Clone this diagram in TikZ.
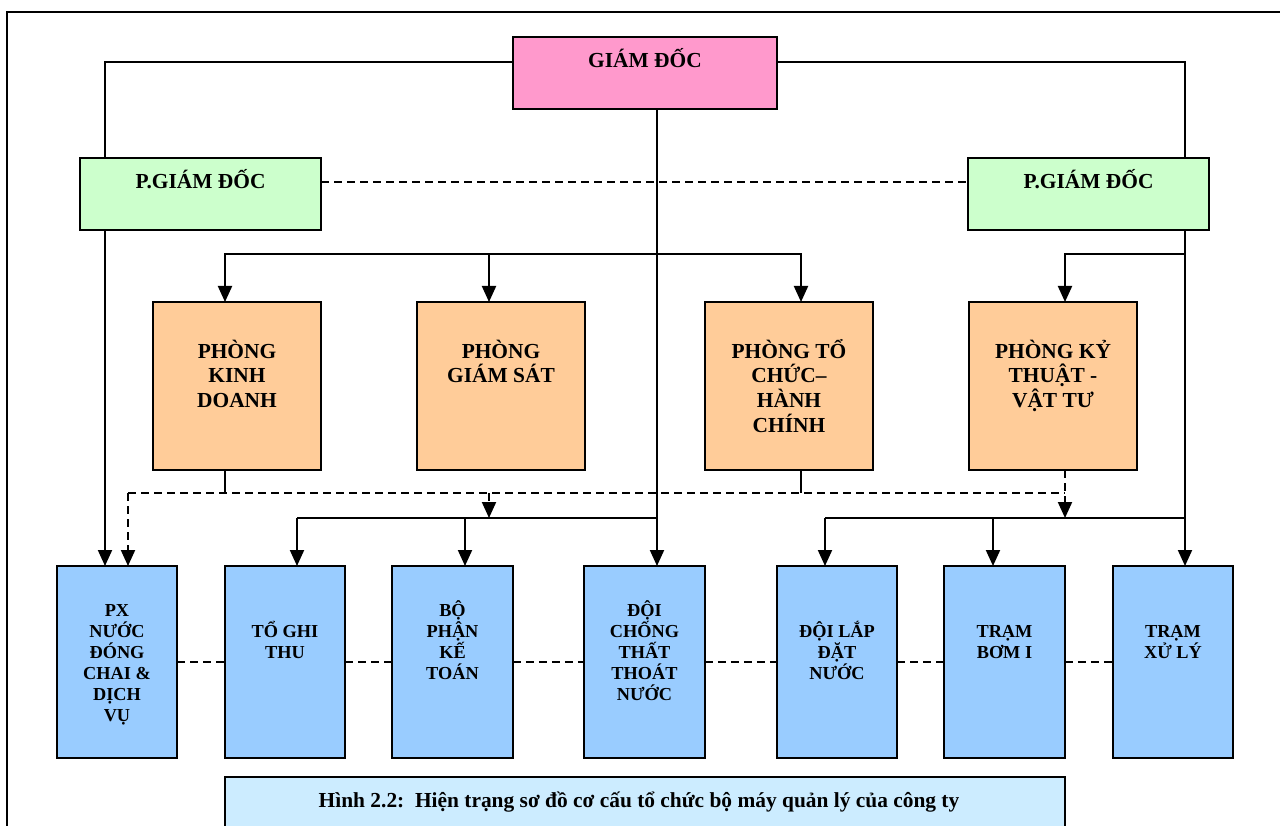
\documentclass[tikz,border=0pt]{standalone}
\usepackage{fontspec}
\setmainfont{Liberation Serif}
\usetikzlibrary{calc,arrows.meta}
\definecolor{gdpink}{HTML}{FF99CC}
\definecolor{pgdgreen}{HTML}{CCFFCC}
\definecolor{orangebox}{HTML}{FFCC99}
\definecolor{bluebox}{HTML}{99CCFF}
\definecolor{capblue}{HTML}{CCECFF}
\newcommand{\firststrut}{\rule{0pt}{1em}}
\begin{document}
\begin{tikzpicture}[x=1pt,y=-1pt,
  bx/.style={draw=black,line width=2.2pt,inner sep=0pt,outer sep=0pt},
  gdbox/.style={bx,fill=gdpink,minimum width=264pt,minimum height=72pt},
  pgdbox/.style={bx,fill=pgdgreen,minimum width=241pt,minimum height=72pt},
  obox/.style={bx,fill=orangebox,minimum width=168pt,minimum height=168pt},
  bbox/.style={bx,fill=bluebox,minimum width=120.5pt,minimum height=192pt},
  capbox/.style={bx,fill=capblue,minimum width=840pt,minimum height=70pt},
  bigtxt/.style={inner sep=0pt,align=center,font={\bfseries\fontsize{21.4}{24.6}\selectfont\lineskiplimit=-100pt}},
  smalltxt/.style={inner sep=0pt,align=center,font={\bfseries\fontsize{18.3}{21.1}\selectfont\lineskiplimit=-100pt}},
  conn/.style={line width=2pt},
  arr/.style={conn,-{Triangle[length=16pt,width=14pt]}},
  dashline/.style={conn,dash pattern=on 8pt off 5pt},
  dasharr/.style={dashline,-{Triangle[length=16pt,width=14pt]}}
]
\useasboundingbox (0,0) rectangle (1280,826);
% frame
\draw[line width=2.2pt] (7,830) -- (7,12) -- (1285,12);

% boxes
\node[gdbox] (gd) at (645,73) {};
\node[pgdbox] (pgd1) at (200.5,194) {};
\node[pgdbox] (pgd2) at (1088.5,194) {};
\node[obox] (pkd) at (237,386) {};
\node[obox] (pgs) at (501,386) {};
\node[obox] (ptc) at (789,386) {};
\node[obox] (pkt) at (1053,386) {};
\node[bbox] (px) at (117,662) {};
\node[bbox] (tgt) at (285,662) {};
\node[bbox] (bpk) at (452.5,662) {};
\node[bbox] (dcc) at (644.5,662) {};
\node[bbox] (dld) at (837,662) {};
\node[bbox] (tbm) at (1004.5,662) {};
\node[bbox] (txl) at (1173,662) {};
\node[capbox] (cap) at (645,812) {};

% texts
\node[bigtxt,anchor=base] (gdt) at (645,68) {GIÁM ĐỐC};
\node[bigtxt,anchor=base] (pgd1t) at (200.5,189) {P.GIÁM ĐỐC};
\node[bigtxt,anchor=base] (pgd2t) at (1088.5,189) {P.GIÁM ĐỐC};
\node[bigtxt,anchor=north] (pkdt) at (237,336.6) {\firststrut PHÒNG\\KINH\\DOANH};
\node[bigtxt,anchor=north] (pgst) at (501,336.6) {\firststrut PHÒNG\\GIÁM SÁT};
\node[bigtxt,anchor=north] (ptct) at (789,336.6) {\firststrut PHÒNG TỔ\\CHỨC–\\HÀNH\\CHÍNH};
\node[bigtxt,anchor=north] (pktt) at (1053,336.6) {\firststrut PHÒNG KỶ\\THUẬT -\\VẬT TƯ};
\node[smalltxt,anchor=north] (pxt) at (117,597.7) {\firststrut PX\\NƯỚC\\ĐÓNG\\CHAI \&\\DỊCH\\VỤ};
\node[smalltxt,anchor=north] (tgtt) at (285,618.7) {\firststrut TỔ GHI\\THU};
\node[smalltxt,anchor=north] (bpkt) at (452.5,597.7) {\firststrut BỘ\\PHẬN\\KẾ\\TOÁN};
\node[smalltxt,anchor=north] (dcct) at (644.5,597.7) {\firststrut ĐỘI\\CHỐNG\\THẤT\\THOÁT\\NƯỚC};
\node[smalltxt,anchor=north] (dldt) at (837,618.7) {\firststrut ĐỘI LẮP\\ĐẶT\\NƯỚC};
\node[smalltxt,anchor=north] (tbmt) at (1004.5,618.7) {\firststrut TRẠM\\BƠM I};
\node[smalltxt,anchor=north] (txlt) at (1173,618.7) {\firststrut TRẠM\\XỬ LÝ};
\node[bigtxt,anchor=base] (capt) at (639,807) {Hình 2.2:\ \ Hiện trạng sơ đồ cơ cấu tổ chức bộ máy quản lý của công ty};

% connection points
\coordinate (gdl) at ($(gd.north west)+(0,25)$);
\coordinate (gdr) at ($(gd.north east)+(0,25)$);
\coordinate (gdc) at ($(gd.south)+(12,0)$);
\coordinate (p1t) at ($(pgd1.north west)+(25,0)$);
\coordinate (p1b) at ($(pgd1.south west)+(25,0)$);
\coordinate (p2t) at ($(pgd2.north east)+(-24,0)$);
\coordinate (p2b) at ($(pgd2.south east)+(-24,0)$);
\coordinate (pkdin) at ($(pkd.north)+(-12,0)$);
\coordinate (pgsin) at ($(pgs.north)+(-12,0)$);
\coordinate (ptcin) at ($(ptc.north)+(12,0)$);
\coordinate (pktin) at ($(pkt.north)+(12,0)$);
\coordinate (pkdout) at ($(pkd.south)+(-12,0)$);
\coordinate (ptcout) at ($(ptc.south)+(12,0)$);
\coordinate (pktout) at ($(pkt.south)+(12,0)$);
\coordinate (pxin) at ($(px.north)+(-12,0)$);
\coordinate (pxin2) at ($(px.north)+(11,0)$);
\coordinate (tgtin) at ($(tgt.north)+(12,0)$);
\coordinate (bpkin) at ($(bpk.north)+(12.5,0)$);
\coordinate (dccin) at ($(dcc.north)+(12.5,0)$);
\coordinate (dldin) at ($(dld.north)+(-12,0)$);
\coordinate (tbmin) at ($(tbm.north)+(-11.5,0)$);
\coordinate (txlin) at ($(txl.north)+(12,0)$);
\coordinate (jA) at (657,254);
\coordinate (jB) at (1185,254);
\coordinate (jD) at (128,493);
\coordinate (jE) at (657,518);
\coordinate (jF) at (1185,518);

% connectors from director
\draw[conn] (gdl) -| (p1t);
\draw[conn] (gdr) -| (p2t);
\draw[dashline] ($(pgd1.north east)+(0,24)$) -- ($(pgd2.north west)+(0,24)$);
\draw[arr] (gdc) -- (dccin);
\draw[arr] (p1b) -- (pxin);
\draw[arr] (p2b) -- (txlin);

% to departments
\draw[arr] (jA) -| (pkdin);
\draw[arr] (jA) -| (ptcin);
\draw[arr] (pgsin |- jA) -- (pgsin);
\draw[arr] (jB) -| (pktin);

% dashed coordination level
\draw[conn] (pkdout) -- (pkdout |- jD);
\draw[conn] (ptcout) -- (ptcout |- jD);
\draw[dashline] (jD) -- (pktout |- jD);
\draw[dasharr] (jD) -- (pxin2);
\draw[dasharr] (pktout) -- (pktout |- jE);
\draw[dasharr] (pgsin |- jD) -- (pgsin |- jE);

% to units
\draw[conn] (tgtin |- jE) -- (jE);
\draw[arr] (tgtin |- jE) -- (tgtin);
\draw[arr] (bpkin |- jE) -- (bpkin);
\draw[conn] (dldin |- jF) -- (jF);
\draw[arr] (dldin |- jF) -- (dldin);
\draw[arr] (tbmin |- jF) -- (tbmin);

% dashed links between units
\draw[dashline] (px.east) -- (tgt.west);
\draw[dashline] (tgt.east) -- (bpk.west);
\draw[dashline] (bpk.east) -- (dcc.west);
\draw[dashline] (dcc.east) -- (dld.west);
\draw[dashline] (dld.east) -- (tbm.west);
\draw[dashline] (tbm.east) -- (txl.west);
\end{tikzpicture}
\end{document}
